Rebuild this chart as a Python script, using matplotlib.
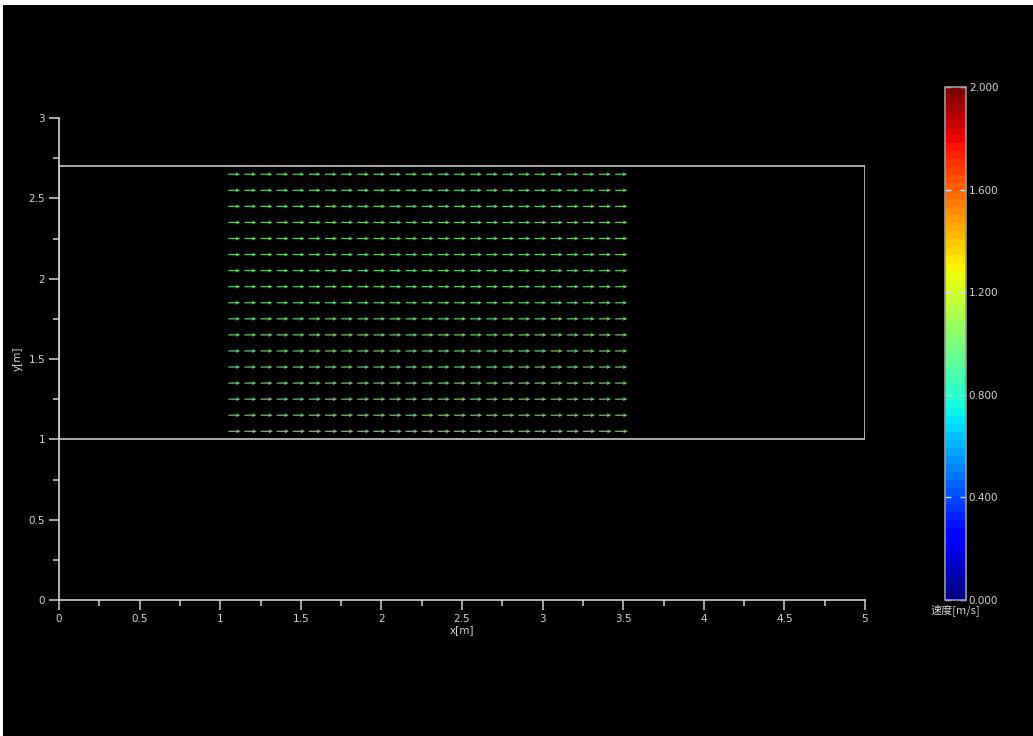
import matplotlib.pyplot as plt
import numpy as np
from matplotlib.patches import Rectangle
from matplotlib.ticker import MultipleLocator, FormatStrFormatter
from matplotlib.colors import Normalize

plt.rcParams["font.family"] = ["DejaVu Sans", "Noto Sans CJK SC"]

# flow domain and sampling grid
domain_x = (0.0, 5.0)
domain_y = (1.0, 2.7)
grid_x = np.round(np.arange(0.05, 5.0, 0.1), 2)
grid_y = np.round(np.arange(1.05, 2.7, 0.1), 2)

# jet region: columns 1.05 .. 3.45
jet_x0, jet_x1 = 1.05, 3.45

# horizontal speed in the jet, one value per row (bottom to top)
jet_u_rows = [1.02, 1.00, 0.99, 0.99, 0.98, 0.99, 1.00, 0.99, 0.98,
              0.99, 0.98, 0.99, 0.99, 1.00, 0.99, 0.98, 0.97]
# small speed variation along the jet, one value per column
jet_u_cols = [0.00, 0.00, 0.01, 0.00, -0.01, 0.00, 0.01, 0.00, 0.00, 0.01,
              0.00, -0.01, 0.00, 0.00, 0.01, 0.00, 0.00, 0.01, 0.00, 0.00,
              0.01, 0.00, 0.00, 0.01, 0.02]
# residual speeds outside the jet
still_u_left = 0.01
wake_u_right = 0.03

speed_min, speed_max = 0.0, 2.0
cbar_ticks = [0.0, 0.4, 0.8, 1.2, 1.6, 2.0]

X, Y = np.meshgrid(grid_x, grid_y)
U = np.zeros_like(X)
V = np.zeros_like(X)
for i in range(len(grid_y)):
    j_col = 0
    for j, x in enumerate(grid_x):
        if x < jet_x0 - 1e-6:
            U[i, j] = still_u_left
        elif x <= jet_x1 + 1e-6:
            U[i, j] = jet_u_rows[i] + jet_u_cols[j_col]
            j_col += 1
        else:
            U[i, j] = wake_u_right
S = np.hypot(U, V)

fg = "#d2d2d2"
fig = plt.figure(figsize=(10.33, 7.36), dpi=100, facecolor="white")
fig.patches.append(Rectangle((3 / 1033, 0), 1, 1 - 5 / 736, transform=fig.transFigure,
                             facecolor="black", edgecolor="none", zorder=-10))

ax = fig.add_axes([59 / 1033, 136 / 736, 806 / 1033, 482 / 736])
ax.set_facecolor("black")
ax.set_xlim(0, 5)
ax.set_ylim(0, 3)

norm = Normalize(speed_min, speed_max)
cmap = plt.get_cmap("jet", 64)
ax.quiver(X, Y, U, V, S, cmap=cmap, norm=norm, angles="xy", scale_units="xy",
          scale=13.3, width=0.0015, headwidth=3.2, headlength=3.5,
          headaxislength=3.2, minlength=0.8, pivot="tail", alpha=0.8)

ax.add_patch(Rectangle((domain_x[0], domain_y[0]), domain_x[1] - domain_x[0],
                       domain_y[1] - domain_y[0], fill=False,
                       edgecolor="#c8c8c8", linewidth=1.2))

for side in ["top", "right"]:
    ax.spines[side].set_visible(False)
for side in ["left", "bottom"]:
    ax.spines[side].set_color(fg)
    ax.spines[side].set_linewidth(1.2)

ax.xaxis.set_major_locator(MultipleLocator(0.5))
ax.xaxis.set_minor_locator(MultipleLocator(0.25))
ax.yaxis.set_major_locator(MultipleLocator(0.5))
ax.yaxis.set_minor_locator(MultipleLocator(0.25))
ax.xaxis.set_major_formatter(FormatStrFormatter("%g"))
ax.yaxis.set_major_formatter(FormatStrFormatter("%g"))
ax.tick_params(which="major", direction="out", length=7, width=1.1,
               color=fg, labelcolor=fg, labelsize=7.5, pad=3)
ax.tick_params(which="minor", direction="out", length=4, width=1.1, color=fg)
ax.set_xlabel("x[m]", color=fg, fontsize=7.5, labelpad=1)
ax.set_ylabel("y[m]", color=fg, fontsize=7.5, labelpad=4)

cax = fig.add_axes([945 / 1033, 136 / 736, 21 / 1033, 513 / 736])
sm = plt.cm.ScalarMappable(norm=norm, cmap=cmap)
cbar = fig.colorbar(sm, cax=cax, ticks=cbar_ticks, format="%.3f")
cbar.outline.set_edgecolor("#9a9a9a")
cbar.outline.set_linewidth(1.2)
cax.tick_params(direction="in", left=True, right=True, length=4, width=1,
                color="#e0e0e0", labelcolor=fg, labelsize=7.5, pad=2)
fig.text(955 / 1033, 1 - 611 / 736, "速度[m/s]", color=fg, fontsize=8,
         ha="center", va="center", family=["Noto Sans CJK SC", "DejaVu Sans"])

fig.savefig("out.png", dpi=100, facecolor=fig.get_facecolor())
